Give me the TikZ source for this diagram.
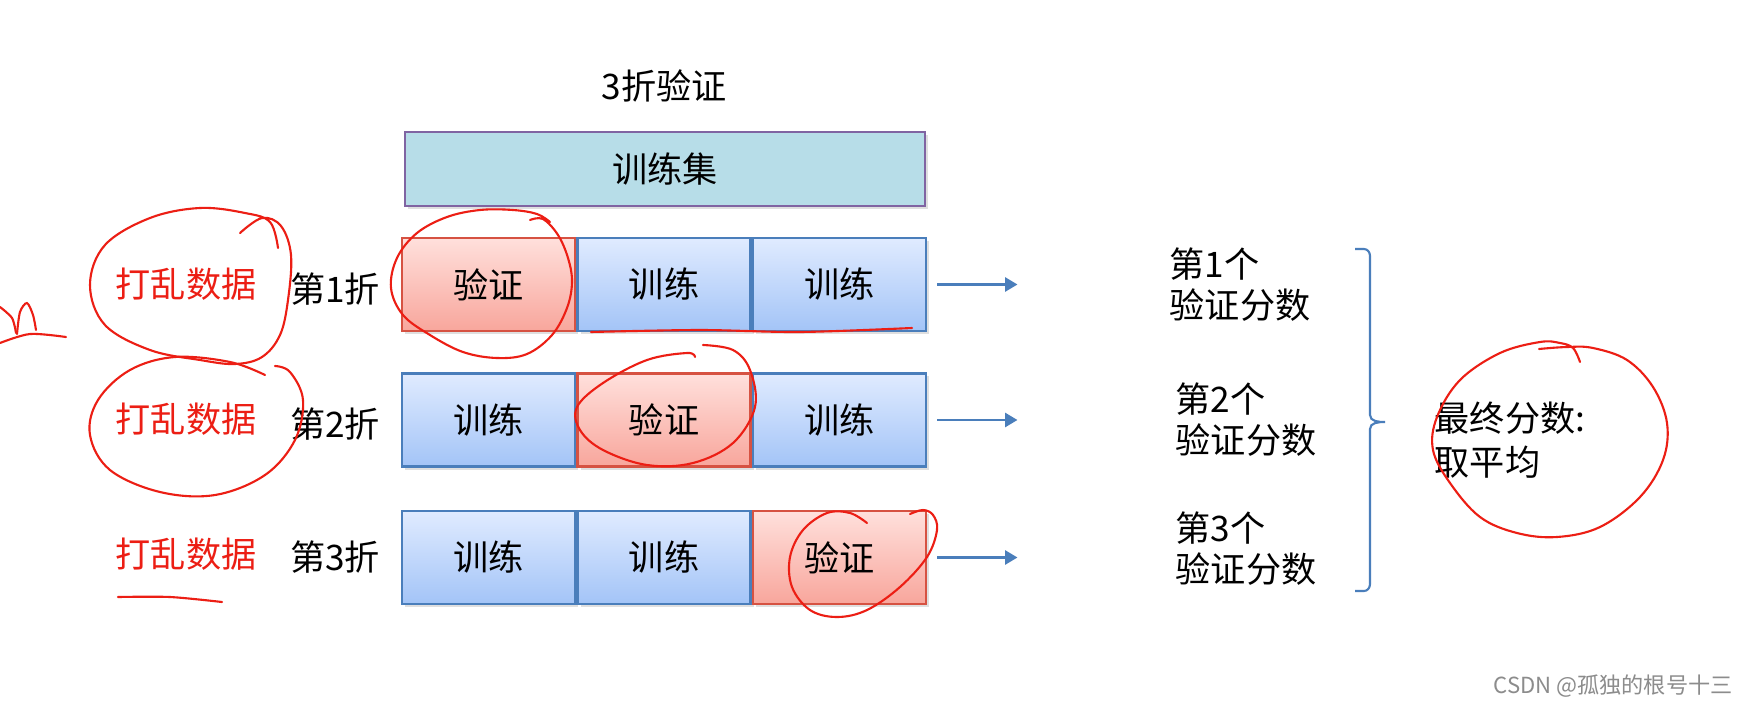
\documentclass[tikz,border=0pt]{standalone}
\usepackage{fontspec}
\setmainfont{Noto Sans CJK SC}
\usetikzlibrary{positioning,shadows,arrows.meta}

\definecolor{setfill}{RGB}{183,221,232}
\definecolor{setline}{RGB}{128,100,162}
\definecolor{trtop}{RGB}{224,235,255}
\definecolor{trbot}{RGB}{163,196,247}
\definecolor{trline}{RGB}{74,126,187}
\definecolor{vatop}{RGB}{255,224,220}
\definecolor{vabot}{RGB}{248,166,156}
\definecolor{valine}{RGB}{214,82,66}
\definecolor{inkred}{RGB}{236,30,20}

\tikzset{
 cell/.style={minimum width=1.73cm,minimum height=0.93cm,inner sep=0pt,line width=0.7pt,
  drop shadow={shadow xshift=0.03cm,shadow yshift=-0.03cm,opacity=0.25}},
 train/.style={cell,draw=trline,top color=trtop,bottom color=trbot},
 valid/.style={cell,draw=valine,top color=vatop,bottom color=vabot},
 setbox/.style={cell,draw=setline,fill=setfill,minimum width=5.2cm,minimum height=0.74cm},
 flow/.style={draw=trline,line width=0.6pt,-{Triangle[length=3.5pt,width=4pt]}},
 bracket/.style={draw=trline,line width=0.6pt},
 score/.style={anchor=west,align=left,inner sep=0pt},
 ink/.style={draw=inkred,line width=0.6pt,line cap=round}
}

\begin{document}
\begin{tikzpicture}[x=0.01cm,y=-0.01cm,font=\fontsize{10}{11.7}\selectfont]
 \useasboundingbox[fill=white] (0,0) rectangle (1758,709);

 % header
 \node (ttl) at (664,86) {3折验证};
 \node[setbox] (set) at (665,169) {训练集};

 % folds
 \node[valid] (r1c1) at (488.5,284.5) {验证};
 \node[train,right=0pt of r1c1] (r1c2) {训练};
 \node[train,right=0pt of r1c2] (r1c3) {训练};
 \node[train] (r2c1) at (488.5,420) {训练};
 \node[valid,right=0pt of r2c1] (r2c2) {验证};
 \node[train,right=0pt of r2c2] (r2c3) {训练};
 \node[train] (r3c1) at (488.5,557.5) {训练};
 \node[train,right=0pt of r3c1] (r3c2) {训练};
 \node[valid,right=0pt of r3c2] (r3c3) {验证};

 \node (f1) at (335,289) {第1折};
 \node (f2) at (335,424) {第2折};
 \node (f3) at (335,557.5) {第3折};
 \node[text=inkred] (sh1) at (186,284) {打乱数据};
 \node[text=inkred] (sh2) at (186,419) {打乱数据};
 \node[text=inkred] (sh3) at (186,554) {打乱数据};

 % scores
 \coordinate[right=0.9cm of r1c3] (e1);
 \coordinate[right=0.9cm of r2c3] (e2);
 \coordinate[right=0.9cm of r3c3] (e3);
 \draw[flow] ([xshift=0.1cm]r1c3.east) -- (e1);
 \draw[flow] ([xshift=0.1cm]r2c3.east) -- (e2);
 \draw[flow] ([xshift=0.1cm]r3c3.east) -- (e3);
 \node[score] (s1) at (1169,285) {第1个\\验证分数};
 \node[score] (s2) at (1175,420) {第2个\\验证分数};
 \node[score] (s3) at (1175,549) {第3个\\验证分数};
 \coordinate (bt) at (1355,249);
 \coordinate (bb) at (1355,591);
 \draw[bracket] (bt) -- (1364,249) to[out=0,in=90] (1370,256) -- (1370,415)
  to[out=-90,in=180] (1385,422) to[out=180,in=90] (1370,429) -- (1370,584)
  to[out=-90,in=0] (1364,591) -- (bb);
 \node[score,font=\fontsize{10}{12.4}\selectfont] (fin) at (1434,440) {最终分数:\\取平均};

 % hand marks
 \draw[ink] plot[smooth,tension=0.6] coordinates {(240,233) (262,218) (281,226) (291,255) (288,300) (280,335) (262,357) (235,364) (200,360) (150,350) (105,325) (90,285) (105,245) (150,218) (200,208) (245,213) (270,222) (278,248)};
 \draw[ink] plot[smooth,tension=0.6] coordinates {(265,375) (230,362) (175,357) (130,370) (98,400) (90,435) (110,470) (160,492) (215,495) (265,475) (295,440) (303,400) (290,372) (275,366)};
 \draw[ink] plot[smooth] coordinates {(118,597) (170,597) (222,602)};
 \draw[ink] plot[smooth] coordinates {(0,343) (30,334) (66,337)};
 \draw[ink] plot[smooth] coordinates {(0,307) (12,318) (16,333)};
 \draw[ink] plot[smooth] coordinates {(17,334) (20,312) (27,303) (33,315) (36,330)};
 \draw[ink] plot[smooth,tension=0.6] coordinates {(530,220) (543,219) (558,235) (568,258) (572,282) (567,308) (552,335) (527,354) (497,358) (463,352) (430,335) (403,315) (391,288) (397,258) (417,233) (447,217) (480,210) (513,210) (537,214) (550,222)};
 \draw[ink] plot[smooth] coordinates {(591,332) (700,330) (800,332) (912,328)};
 \draw[ink] plot[smooth,tension=0.6] coordinates {(695,357) (687,353) (647,360) (603,383) (577,407) (580,430) (603,450) (647,465) (693,463) (733,443) (755,407) (750,370) (733,350) (703,345)};
 \draw[ink] plot[smooth,tension=0.6] coordinates {(867,523) (850,513) (827,513) (803,530) (790,557) (792,587) (810,610) (837,617) (867,610) (900,587) (927,557) (937,530) (933,515) (923,510) (910,514)};
 \draw[ink] plot[smooth,tension=0.6] coordinates {(1580,362) (1573,348) (1560,343) (1540,342) (1500,353) (1460,380) (1437,417) (1433,450) (1450,483) (1480,517) (1517,533) (1557,537) (1600,527) (1640,497) (1663,460) (1667,423) (1653,387) (1627,360) (1593,348) (1567,347) (1539,349)};

 \node[anchor=east,text=black!45,font=\fontsize{6.3}{7}\selectfont] (mark) at (1745,686) {CSDN @孤独的根号十三};
\end{tikzpicture}
\end{document}
